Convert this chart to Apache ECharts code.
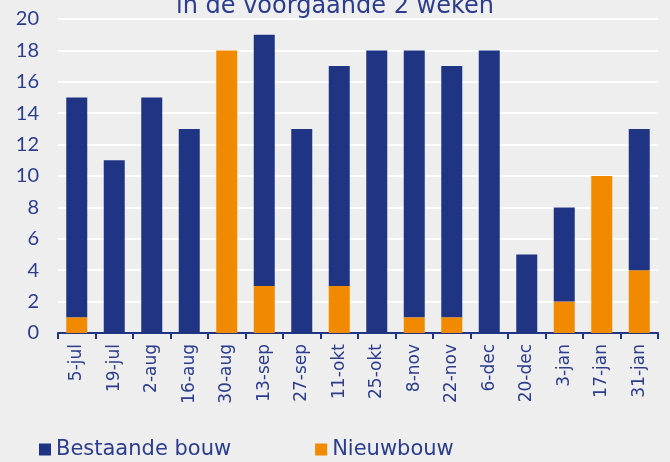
<!DOCTYPE html>
<html><head><meta charset="utf-8">
<script src="https://cdn.jsdelivr.net/npm/echarts@6/dist/echarts.min.js"></script>
<style>html,body{margin:0;padding:0;background:#eeeeee;}#c{width:670px;height:462px;}</style>
</head><body><div id="c"></div>
<script>
var categories = ['5-jul','19-jul','2-aug','16-aug','30-aug','13-sep','27-sep','11-okt','25-okt','8-nov','22-nov','6-dec','20-dec','3-jan','17-jan','31-jan'];
var nieuwbouw = [1,0,0,0,18,3,0,3,0,1,1,0,0,2,10,4];
var bestaande = [14,11,15,13,0,16,13,14,18,17,16,18,5,6,0,9];
var yTicks = [0,2,4,6,8,10,12,14,16,18,20];
var titleText = 'in de voorgaande 2 weken';

var blue = '#1f3584', orange = '#f28a00', txt = '#2b3d8c';
var font = 'DejaVu Sans';
var chart = echarts.init(document.getElementById('c'));
chart.setOption({
  backgroundColor: '#eeeeee',
  animation: false,
  title: {text: titleText, left: 'center', top: -10, textStyle: {color: txt, fontSize: 24, fontWeight: 'normal', fontFamily: font}},
  grid: {left: 58, right: 12, top: 19, bottom: 129},
  legend: {
    bottom: -3, left: 34, itemGap: 84, itemWidth: 12, itemHeight: 12, icon: 'rect',
    textStyle: {color: txt, fontSize: 21, fontFamily: font},
    data: ['Bestaande bouw', 'Nieuwbouw']
  },
  xAxis: {
    type: 'category', data: categories,
    axisLine: {lineStyle: {color: blue, width: 2}},
    axisTick: {show: true, length: 6, lineStyle: {color: blue, width: 2}},
    axisLabel: {rotate: 90, color: txt, fontSize: 17, fontFamily: font, margin: 11}
  },
  yAxis: {
    type: 'value', min: 0, max: 20, interval: 2,
    axisLine: {show: false}, axisTick: {show: false},
    splitLine: {lineStyle: {color: '#ffffff', width: 2}},
    axisLabel: {color: txt, fontSize: 20, fontFamily: 'Lato', margin: 19,
      formatter: function(v){ return yTicks.indexOf(v) >= 0 ? String(v) : ''; }}
  },
  series: [
    {name: 'Nieuwbouw', type: 'bar', stack: 's', data: nieuwbouw, barWidth: '56%',
      itemStyle: {color: orange}},
    {name: 'Bestaande bouw', type: 'bar', stack: 's', data: bestaande, barWidth: '56%',
      itemStyle: {color: blue}}
  ]
});
</script></body></html>
